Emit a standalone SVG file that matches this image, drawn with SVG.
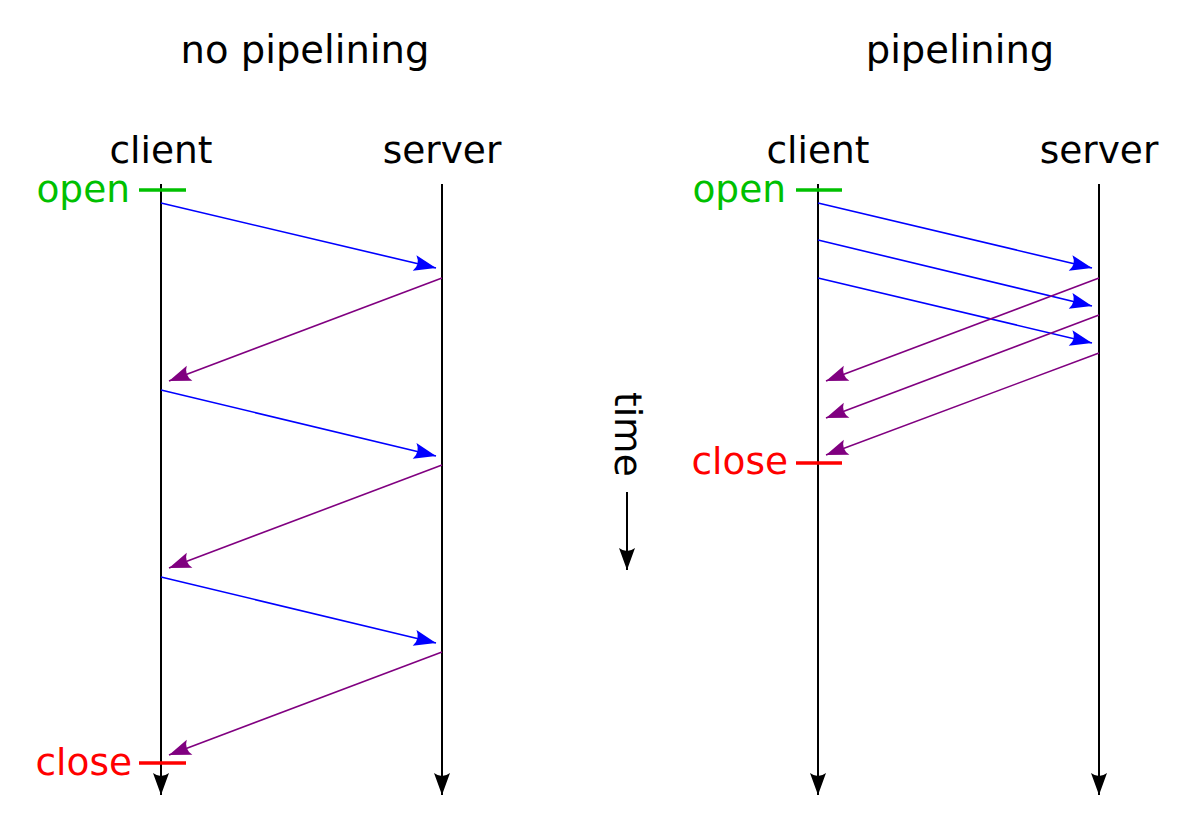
<svg xmlns="http://www.w3.org/2000/svg" width="1200" height="834" viewBox="0 0 1200 834">
<style>
text{font-family:"DejaVu Sans","Liberation Sans",sans-serif;font-size:37.5px}
.hd{text-anchor:middle;fill:#000}
.tt{font-size:38.5px}
.open{fill:#00c000;text-anchor:end}
.close{fill:#ff0000;text-anchor:end}
.life{stroke:#000;stroke-width:2;fill:none;marker-end:url(#ak)}
.req{stroke:#0000ff;stroke-width:1.6;fill:none;marker-end:url(#ab)}
.resp{stroke:#800080;stroke-width:1.6;fill:none;marker-end:url(#ap)}
.tickg{stroke:#00c000;stroke-width:3.5}
.tickr{stroke:#ff0000;stroke-width:3.5}
</style>
<defs>
<marker id="ab" markerUnits="userSpaceOnUse" viewBox="-23 -9 25 18" refX="0" refY="0" markerWidth="25" markerHeight="18" orient="auto" overflow="visible"><path d="M0,0 L-22,-8 Q-16,0 -22,8 Z" fill="#0000ff"/></marker>
<marker id="ap" markerUnits="userSpaceOnUse" viewBox="-23 -9 25 18" refX="0" refY="0" markerWidth="25" markerHeight="18" orient="auto" overflow="visible"><path d="M0,0 L-22,-8 Q-16,0 -22,8 Z" fill="#800080"/></marker>
<marker id="ak" markerUnits="userSpaceOnUse" viewBox="-23 -9 25 18" refX="0" refY="0" markerWidth="25" markerHeight="18" orient="auto" overflow="visible"><path d="M0,0 L-22,-8 Q-16,0 -22,8 Z" fill="#000"/></marker>
</defs>
<g id="titles">
<text class="hd tt" x="305" y="63">no pipelining</text>
<text class="hd tt" x="960" y="63">pipelining</text>
</g>
<g id="left-client"><text class="hd" x="161" y="163">client</text><path class="life" d="M161,184 V795"/></g>
<g id="left-server"><text class="hd" x="442" y="163">server</text><path class="life" d="M442,184 V795"/></g>
<g id="right-client"><text class="hd" x="818" y="163">client</text><path class="life" d="M818,184 V795"/></g>
<g id="right-server"><text class="hd" x="1099" y="163">server</text><path class="life" d="M1099,184 V795"/></g>
<g id="left-open"><text class="open" x="130" y="202">open</text><path class="tickg" d="M139,190 H186"/></g>
<g id="left-close"><text class="close" x="132" y="775">close</text><path class="tickr" d="M139,763 H186"/></g>
<g id="right-open"><text class="open" x="786" y="202">open</text><path class="tickg" d="M796,190 H842"/></g>
<g id="right-close"><text class="close" x="788" y="474">close</text><path class="tickr" d="M796,463 H842"/></g>
<g id="time"><text x="615" y="392" transform="rotate(90 615 392)">time</text><path class="life" d="M627,492 V570"/></g>
<g id="connectors">
<path class="req" d="M161,203 L436,268"/>
<path class="resp" d="M442,278 L169,381"/>
<path class="req" d="M161,390 L436,456"/>
<path class="resp" d="M442,465 L169,568"/>
<path class="req" d="M161,577 L436,643"/>
<path class="resp" d="M442,652 L169,755"/>
<path class="req" d="M818,203 L1092,268"/>
<path class="req" d="M818,240 L1092,306"/>
<path class="req" d="M818,278 L1092,343"/>
<path class="resp" d="M1099,278 L826,381"/>
<path class="resp" d="M1099,315 L826,418"/>
<path class="resp" d="M1099,353 L826,455"/>
</g>
</svg>
